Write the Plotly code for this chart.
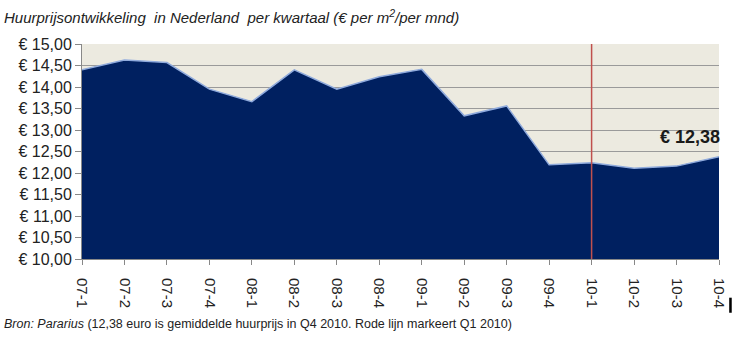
import plotly.graph_objects as go

quarters = ["07-1", "07-2", "07-3", "07-4", "08-1", "08-2", "08-3", "08-4",
            "09-1", "09-2", "09-3", "09-4", "10-1", "10-2", "10-3", "10-4"]
prices = [14.40, 14.63, 14.57, 13.95, 13.66, 14.40, 13.95, 14.24,
          14.41, 13.33, 13.56, 12.19, 12.24, 12.11, 12.16, 12.38]
y_ticks = [10.0, 10.5, 11.0, 11.5, 12.0, 12.5, 13.0, 13.5, 14.0, 14.5, 15.0]
y_tick_text = ["€ 10,00", "€ 10,50", "€ 11,00", "€ 11,50", "€ 12,00", "€ 12,50",
               "€ 13,00", "€ 13,50", "€ 14,00", "€ 14,50", "€ 15,00"]
marker_quarter = "10-1"
last_label = "€ 12,38"

title_text = "<i>Huurprijsontwikkeling  in Nederland  per kwartaal (€ per m<sup>2</sup>/per mnd)</i>"
source_text = "<i>Bron: Pararius</i> (12,38 euro is gemiddelde huurprijs in Q4 2010. Rode lijn markeert Q1 2010)"

fig = go.Figure()
fig.add_trace(go.Scatter(
    x=quarters, y=prices, mode="lines", fill="tozeroy",
    fillcolor="#002060", line=dict(color="#8FAADC", width=1.5),
    hoverinfo="skip", showlegend=False,
))

fig.add_shape(type="line", xref="x", yref="paper",
              x0=marker_quarter, x1=marker_quarter, y0=0, y1=1,
              line=dict(color="#C0504D", width=1.5), layer="above")

fig.add_annotation(x=quarters[-1], y=prices[-1], xref="x", yref="y",
                   text="<b>" + last_label + "</b>", showarrow=False,
                   xanchor="right", yanchor="bottom", yshift=8, xshift=3,
                   font=dict(family="Liberation Sans", size=18, color="#1a1a1a"))

fig.add_annotation(x=0, y=1, xref="paper", yref="paper", xanchor="left", yanchor="bottom",
                   text=title_text, showarrow=False,
                   font=dict(family="Liberation Sans Narrow, Liberation Sans", size=15, color="#222"),
                   yshift=16, xshift=-80)
fig.add_annotation(x=0, y=0, xref="paper", yref="paper", xanchor="left", yanchor="top",
                   text=source_text, showarrow=False,
                   font=dict(family="Liberation Sans Narrow, Liberation Sans", size=12.5, color="#222"),
                   yshift=-56, xshift=-80)
# small black bar at lower right
fig.add_shape(type="rect", xref="paper", yref="paper",
              x0=1.016, x1=1.02, y0=-0.25, y1=-0.18,
              fillcolor="black", line=dict(width=0))

fig.update_layout(
    width=740, height=339,
    margin=dict(l=82, r=19, t=44, b=80),
    paper_bgcolor="white", plot_bgcolor="#ECEAE0",
    xaxis=dict(type="category", range=[0, len(quarters) - 1], tickangle=90,
               showgrid=False, ticks="outside", ticklen=5, tickcolor="#888",
               showline=True, linecolor="#888", linewidth=1,
               ticklabelstandoff=10,
               tickfont=dict(family="Liberation Sans", size=15, color="#222"),
               zeroline=False),
    yaxis=dict(range=[10, 15], tickvals=y_ticks, ticktext=y_tick_text,
               showgrid=True, gridcolor="#9a9a9a", gridwidth=1,
               ticks="outside", ticklen=6, tickcolor="#888",
               showline=True, linecolor="#888", linewidth=1,
               tickfont=dict(family="Liberation Sans", size=16, color="#222"),
               zeroline=False),
)

fig.write_html("out.html")
